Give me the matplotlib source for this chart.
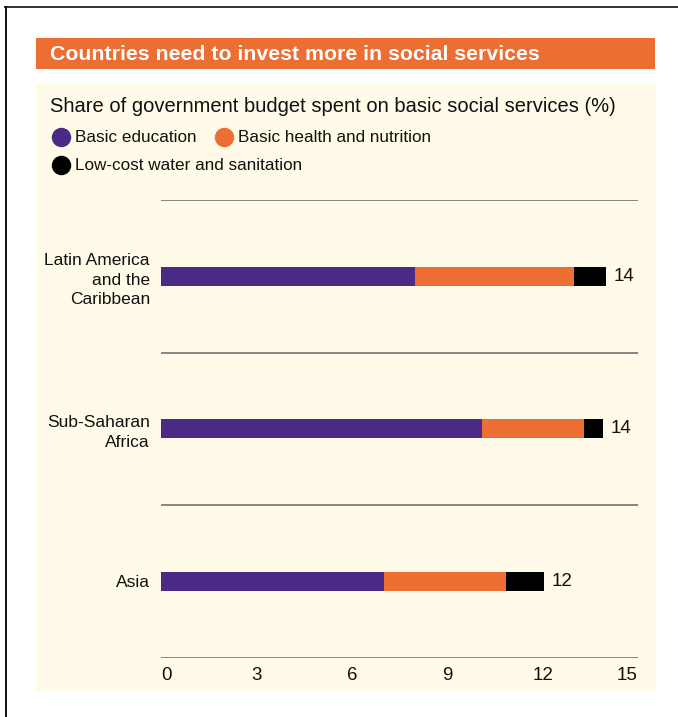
import matplotlib
matplotlib.use("Agg")
import matplotlib.pyplot as plt
from matplotlib.patches import Rectangle
from matplotlib.lines import Line2D

# data
regions = ["Latin America\nand the\nCaribbean", "Sub-Saharan\nAfrica", "Asia"]
education = [8.0, 10.1, 7.0]
health = [5.0, 3.2, 3.85]
water = [1.0, 0.6, 1.2]
totals = ["14", "14", "12"]
series_names = ["Basic education", "Basic health and nutrition", "Low-cost water and sanitation"]
colors = ["#4a2a85", "#ec6e33", "#000000"]
xticks = [0, 3, 6, 9, 12, 15]

W, H = 678, 717
cream = "#fffbe8"
plain = ["Liberation Sans", "DejaVu Sans"]


def fx(px):
    return px / W


def fy(py):
    return 1 - py / H


fig = plt.figure(figsize=(W / 100, H / 100), dpi=100)
fig.patch.set_facecolor("white")

# frame lines (top and left)
fig.add_artist(Line2D([fx(5), fx(678)], [fy(6.5), fy(6.5)], color="#333333", lw=1.4))
fig.add_artist(Line2D([fx(5.5), fx(5.5)], [fy(6.5), fy(717)], color="#111111", lw=1.4))

# banner and cream panel (behind the axes)
fig.add_artist(Rectangle((fx(36), fy(69)), fx(655) - fx(36), fy(38) - fy(69),
                         transform=fig.transFigure, color="#ec6e33", lw=0, zorder=-2))
fig.add_artist(Rectangle((fx(36), fy(692)), fx(656) - fx(36), fy(83) - fy(692),
                         transform=fig.transFigure, color=cream, lw=0, zorder=-2))
fig.text(fx(50), fy(54), "Countries need to invest more in social services",
         color="white", fontsize=15.3, fontweight="bold", family=plain, va="center")
fig.text(fx(50), fy(106), "Share of government budget spent on basic social services (%)",
         fontsize=14.5, family=plain, va="center", color="#111111")

# legend drawn by hand: two on first row, one on second
legend_pos = [(60.5, 137), (223.5, 137), (60.5, 165)]
for (px, py), name, c in zip(legend_pos, series_names, colors):
    fig.add_artist(Line2D([fx(px)], [fy(py)], marker="o", markersize=14,
                          color=c, markeredgewidth=0, linestyle="none"))
    fig.text(fx(px + 14.5), fy(py), name, fontsize=12.3, family=plain, va="center", color="#111111")

# main axes
ax = fig.add_axes([fx(161), fy(657.5), fx(638) - fx(161), fy(200) - fy(657.5)])
ax.patch.set_alpha(0)
ypos = [0.5 + i for i in range(len(regions))]
left = [0] * len(regions)
for vals, c in zip([education, health, water], colors):
    ax.barh(ypos, vals, left=left, height=0.125, color=c, lw=0)
    left = [l + v for l, v in zip(left, vals)]
for y, tot, lab in zip(ypos, left, totals):
    ax.text(tot + 0.24, y, lab, va="center", ha="left", fontsize=13.5, family=plain, color="#111111")

for g in range(len(regions) + 1):
    ax.axhline(g, color="#666666", lw=1.1)

ax.set_xlim(0, 15)
ax.set_ylim(len(regions), 0)
for s in ax.spines.values():
    s.set_visible(False)
ax.set_yticks(ypos)
ax.set_yticklabels(regions, family=plain, fontsize=12.5, linespacing=1.4, color="#111111")
ax.set_xticks(xticks)
ax.set_xticklabels([str(t) for t in xticks], family=plain, fontsize=13.5, color="#111111")
ax.tick_params(length=0, axis="y", pad=8)
ax.tick_params(length=0, axis="x", pad=7)
labs = ax.get_xticklabels()
labs[0].set_ha("left")
labs[-1].set_ha("right")

fig.savefig("out.png", dpi=100, facecolor="white")
